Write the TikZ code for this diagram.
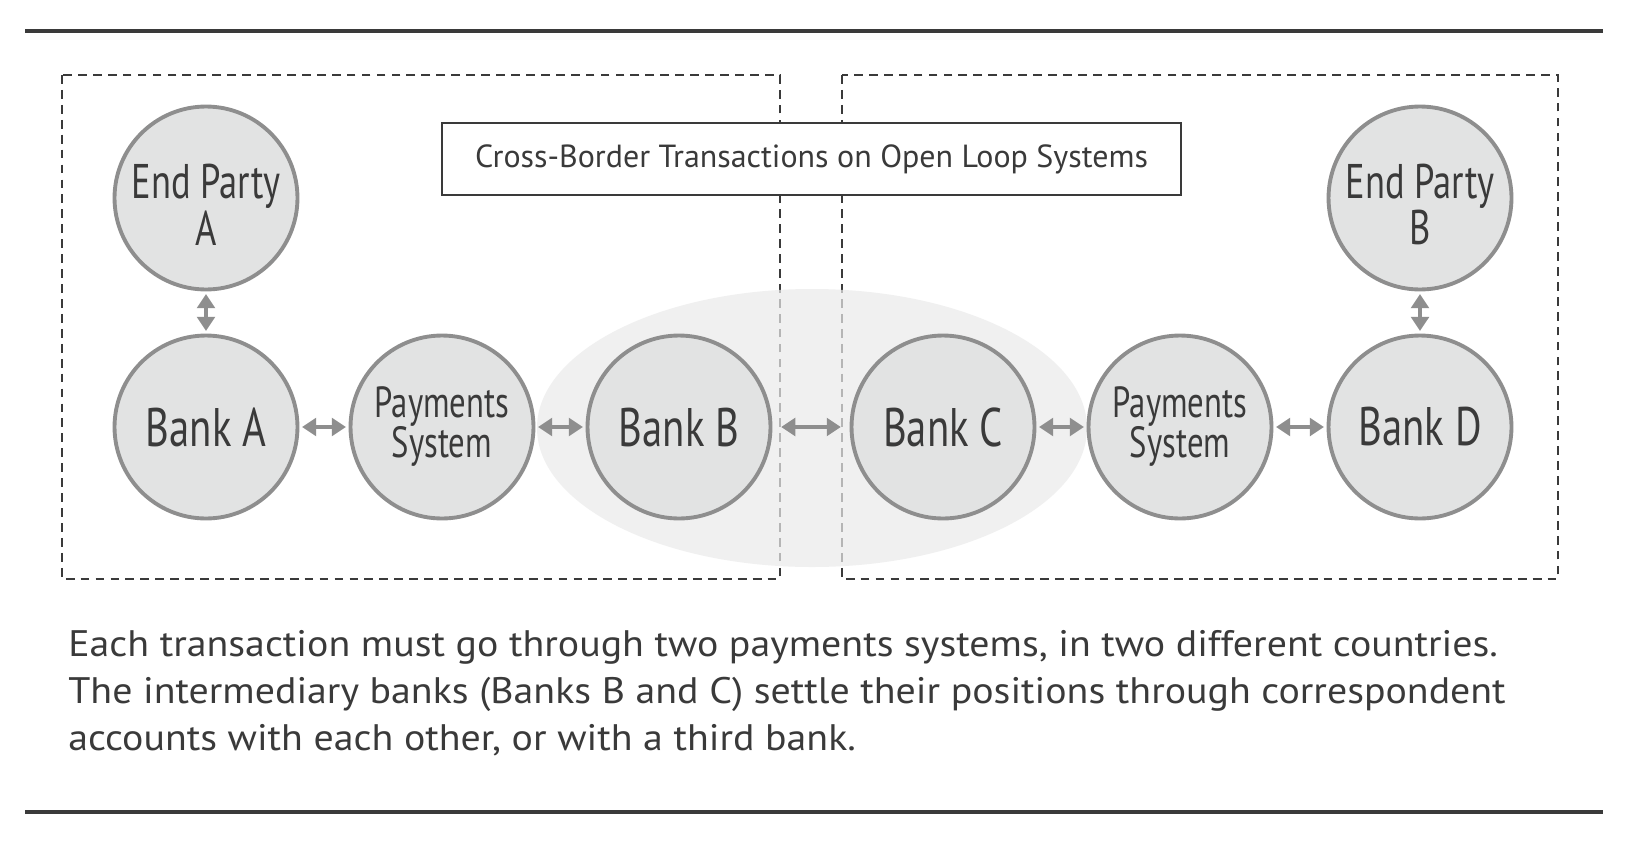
\documentclass[tikz,border=0pt]{standalone}
\usepackage{fontspec}
\setmainfont{PT Sans}
\newfontfamily\narrowsans{PT Sans}[FakeStretch=0.75]
\newfontfamily\widesans{PT Sans}[FakeStretch=1.08]
\usetikzlibrary{arrows.meta}
\definecolor{ringgray}{HTML}{8E8E8E}
\definecolor{discfill}{HTML}{E2E3E3}
\definecolor{inkgray}{HTML}{3A3A3A}
\definecolor{hazegray}{HTML}{EAEAEA}

\begin{document}
\begin{tikzpicture}[x=0.02cm, y=-0.02cm,
  disc/.style={circle, draw=ringgray, line width=2.2pt, fill=discfill,
               minimum size=3.66cm, inner sep=0pt, align=center, text=inkgray},
  party/.style={disc, font=\narrowsans\fontsize{27.7}{26.7}\selectfont},
  bank/.style={disc, font=\narrowsans\fontsize{30.9}{30}\selectfont},
  paysys/.style={disc, font=\narrowsans\fontsize{24.8}{22.8}\selectfont},
  zone/.style={draw=inkgray, line width=1.4pt, dash pattern=on 5pt off 3.5pt},
  rule/.style={draw=inkgray, line width=2.3pt},
  link/.style={{Triangle[length=8pt,width=10pt]}-{Triangle[length=8pt,width=10pt]},
               draw=ringgray, line width=2.6pt, shorten >=1.5pt, shorten <=1.5pt}
]
\useasboundingbox[fill=white] (0,0) rectangle (1632,842);

%% Top and bottom rules
\draw[rule] (25,31) -- (1603,31);
\draw[rule] (25,812) -- (1603,812);

%% Two countries, dashed
\draw[zone] (62,75) rectangle (780,579);
\draw[zone] (842,75) rectangle (1558,579);

%% Shaded zone round the intermediary banks
\fill[hazegray, opacity=0.7] (812,428) ellipse [x radius=275, y radius=139];

%% Title
\node[draw=inkgray, line width=1.2pt, fill=white, minimum width=14.78cm,
      minimum height=1.44cm, text=inkgray, font=\fontsize{18.2}{20}\selectfont]
  (title) at (811.5,159) {Cross-Border Transactions on Open Loop Systems};

%% Parties and banks
\node[party]  (partyA)  at (206,198)  {\rule{0pt}{27pt}End Party\\A};
\node[bank]   (bankA)   at (206,427)  {Bank A};
\node[paysys] (paysysA) at (442,427)  {Payments\\System};
\node[bank]   (bankB)   at (679,427)  {Bank B};
\node[bank]   (bankC)   at (943,427)  {Bank C};
\node[paysys] (paysysB) at (1180,427) {Payments\\System};
\node[bank]   (bankD)   at (1420,427) {Bank D};
\node[party]  (partyB)  at (1420,198) {\rule{0pt}{27pt}End Party\\B};

%% Links
\draw[link] (partyA) -- (bankA);
\draw[link] (bankA) -- (paysysA);
\draw[link] (paysysA) -- (bankB);
\draw[link, shorten >=5pt, shorten <=5pt] (bankB) -- (bankC);
\draw[link] (bankC) -- (paysysB);
\draw[link] (paysysB) -- (bankD);
\draw[link] (bankD) -- (partyB);

%% Caption
\node[anchor=north west, align=left, inner sep=0pt, text=inkgray,
      font=\widesans\fontsize{21}{26.7}\selectfont] (caption) at (68,630)
  {Each transaction must go through two payments systems, in two different countries.\\
   The intermediary banks (Banks B and C) settle their positions through correspondent\\
   accounts with each other, or with a third bank.};
\end{tikzpicture}
\end{document}
